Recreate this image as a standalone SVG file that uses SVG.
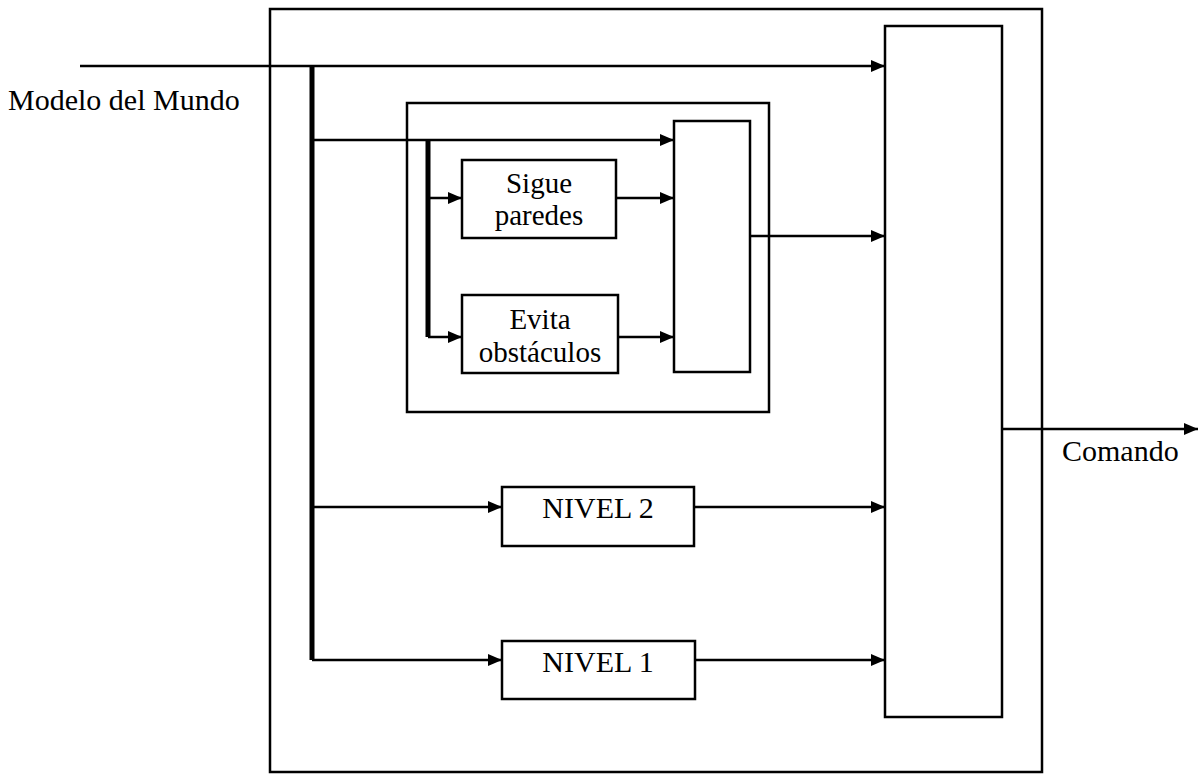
<svg xmlns="http://www.w3.org/2000/svg" width="1200" height="774" viewBox="0 0 1200 774">
<style>
.box{fill:none;stroke:#000;stroke-width:2.5}
.ln{fill:none;stroke:#000;stroke-width:2.5}
.bus{fill:none;stroke:#000;stroke-width:5}
.t{font-family:"Liberation Serif","Times New Roman",serif;font-size:30px;fill:#000}
.s{font-size:29px}
</style>
<defs>
<marker id="ah" viewBox="0 0 14 12" refX="14" refY="6" markerWidth="14" markerHeight="12" markerUnits="userSpaceOnUse" orient="auto">
<path d="M0,0 L14,6 L0,12 Z" fill="#000"/>
</marker>
</defs>
<rect width="1200" height="774" fill="#fff"/>
<g id="outer"><rect class="box" x="270" y="9" width="772" height="763"/></g>
<g id="inner"><rect class="box" x="407" y="103" width="362" height="309"/></g>
<g id="arbitro"><rect class="box" x="885" y="26" width="117" height="691"/></g>
<g id="arbitro-inner"><rect class="box" x="674" y="121" width="76" height="251"/></g>
<g id="sigue"><rect class="box" x="462" y="160" width="154" height="78"/>
<text class="t s" x="539" y="193" text-anchor="middle">Sigue</text>
<text class="t s" x="539" y="225" text-anchor="middle">paredes</text></g>
<g id="evita"><rect class="box" x="462" y="295" width="156" height="78"/>
<text class="t s" x="540" y="329" text-anchor="middle">Evita</text>
<text class="t s" x="540" y="362" text-anchor="middle">obstáculos</text></g>
<g id="nivel2"><rect class="box" x="502" y="487" width="192" height="59"/>
<text class="t" x="598" y="518" text-anchor="middle">NIVEL 2</text></g>
<g id="nivel1"><rect class="box" x="502" y="641" width="193" height="58"/>
<text class="t" x="598" y="672" text-anchor="middle">NIVEL 1</text></g>
<g id="labels">
<text class="t" x="8" y="110">Modelo del Mundo</text>
<text class="t" x="1062" y="461">Comando</text>
</g>
<g id="connectors">
<line class="ln" x1="80" y1="66" x2="885" y2="66" marker-end="url(#ah)"/>
<path class="bus" d="M312,66 V660"/>
<line class="ln" x1="312" y1="140" x2="674" y2="140" marker-end="url(#ah)"/>
<path class="bus" d="M428,140 V337"/>
<line class="ln" x1="428" y1="198" x2="462" y2="198" marker-end="url(#ah)"/>
<line class="ln" x1="428" y1="337" x2="462" y2="337" marker-end="url(#ah)"/>
<line class="ln" x1="616" y1="198" x2="674" y2="198" marker-end="url(#ah)"/>
<line class="ln" x1="618" y1="337" x2="674" y2="337" marker-end="url(#ah)"/>
<line class="ln" x1="750" y1="236" x2="885" y2="236" marker-end="url(#ah)"/>
<line class="ln" x1="312" y1="507" x2="502" y2="507" marker-end="url(#ah)"/>
<line class="ln" x1="312" y1="660" x2="502" y2="660" marker-end="url(#ah)"/>
<line class="ln" x1="694" y1="507" x2="885" y2="507" marker-end="url(#ah)"/>
<line class="ln" x1="695" y1="660" x2="885" y2="660" marker-end="url(#ah)"/>
<line class="ln" x1="1002" y1="429" x2="1198" y2="429" marker-end="url(#ah)"/>
</g>
</svg>
